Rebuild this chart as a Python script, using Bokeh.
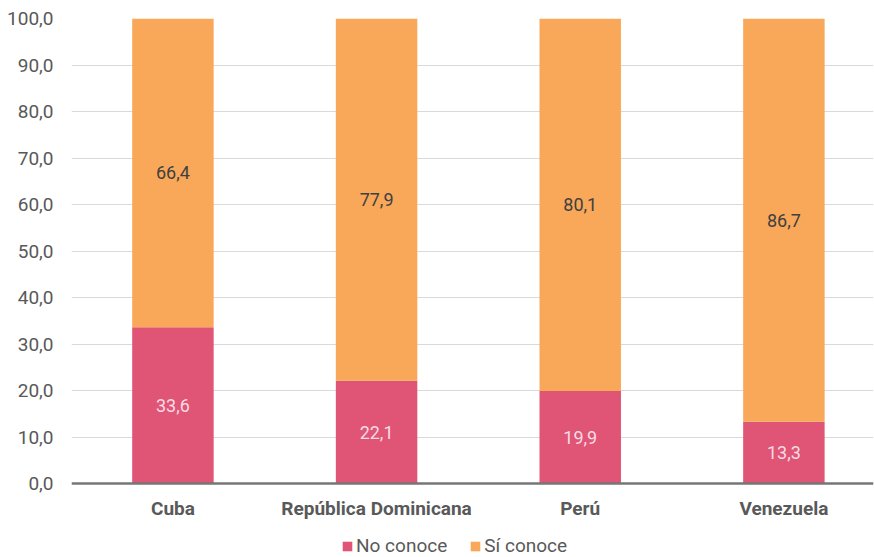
from bokeh.plotting import figure
from bokeh.models import (ColumnDataSource, Legend, LegendItem, FixedTicker,
                          LinearAxis)
from bokeh.core.properties import value
from bokeh.embed import file_html
from bokeh.resources import INLINE

# Data
countries = ["Cuba", "República Dominicana", "Perú", "Venezuela"]
no_conoce = [33.6, 22.1, 19.9, 13.3]
si_conoce = [66.4, 77.9, 80.1, 86.7]
y_ticks = [0, 10, 20, 30, 40, 50, 60, 70, 80, 90, 100]

PINK = "#E05475"
ORANGE = "#F9A859"
FONT = "Roboto"

xs = list(range(len(countries)))
src = ColumnDataSource(dict(
    x=xs,
    no=no_conoce,
    si=si_conoce,
    top_si=[a + b for a, b in zip(no_conoce, si_conoce)],
    mid_no=[a / 2 for a in no_conoce],
    mid_si=[a + b / 2 for a, b in zip(no_conoce, si_conoce)],
    lab_no=[f"{v:.1f}".replace(".", ",") for v in no_conoce],
    lab_si=[f"{v:.1f}".replace(".", ",") for v in si_conoce],
))

# The frame runs to the bottom of the canvas; the space under zero holds
# the category labels and the legend.
p = figure(width=874, height=557, output_backend="svg", toolbar_location=None,
           x_range=(-0.498, 3.44), y_range=(-15.9, 100),
           x_axis_location=None,
           min_border_left=71, min_border_right=1, min_border_top=18,
           min_border_bottom=0)
p.outline_line_color = None
p.background_fill_color = "white"
p.border_fill_color = "white"

r_no = p.vbar(x="x", bottom=0, top="no", width=0.4, source=src,
              fill_color=PINK, line_color=None)
r_si = p.vbar(x="x", bottom="no", top="top_si", width=0.4, source=src,
              fill_color=ORANGE, line_color=None)

p.text(x="x", y="mid_no", text="lab_no", source=src, text_align="center",
       text_baseline="middle", text_font=value(FONT), text_font_size="18px",
       text_color="#F6DCE3")
p.text(x="x", y="mid_si", text="lab_si", source=src, text_align="center",
       text_baseline="middle", text_font=value(FONT), text_font_size="18px",
       text_color="#404040")

# Grid
p.xgrid.grid_line_color = None
p.ygrid.ticker = FixedTicker(ticks=y_ticks)
p.ygrid.grid_line_color = "#D9D9D9"
p.ygrid.grid_line_width = 1

# Y axis
ya = p.yaxis[0]
ya.ticker = FixedTicker(ticks=y_ticks)
ya.major_label_overrides = {t: f"{t:.1f}".replace(".", ",") for t in y_ticks}
ya.axis_line_color = None
ya.major_tick_line_color = None
ya.minor_tick_line_color = None
ya.major_label_standoff = 12
ya.major_label_text_font = FONT
ya.major_label_text_font_size = "19px"
ya.major_label_text_color = "#595959"

# X axis pinned at y = 0
xa = LinearAxis(fixed_location=0)
xa.ticker = FixedTicker(ticks=xs)
xa.major_label_overrides = {i: c for i, c in enumerate(countries)}
xa.axis_line_color = "#767676"
xa.axis_line_width = 2.5
xa.major_tick_line_color = None
xa.minor_tick_line_color = None
xa.major_label_standoff = 7
xa.major_label_text_font = FONT
xa.major_label_text_font_size = "19px"
xa.major_label_text_font_style = "bold"
xa.major_label_text_color = "#595959"
p.add_layout(xa, "below")

legend = Legend(items=[LegendItem(label="No conoce", renderers=[r_no]),
                       LegendItem(label="Sí conoce", renderers=[r_si])],
                orientation="horizontal", location=(270, 0),
                border_line_color=None, background_fill_alpha=0,
                padding=0, margin=0, spacing=22,
                glyph_width=12, glyph_height=12, label_standoff=3,
                label_text_font=FONT, label_text_font_size="19px",
                label_text_color="#595959", label_height=16)
p.add_layout(legend, "center")

open("out.html", "w").write(file_html(p, INLINE))
